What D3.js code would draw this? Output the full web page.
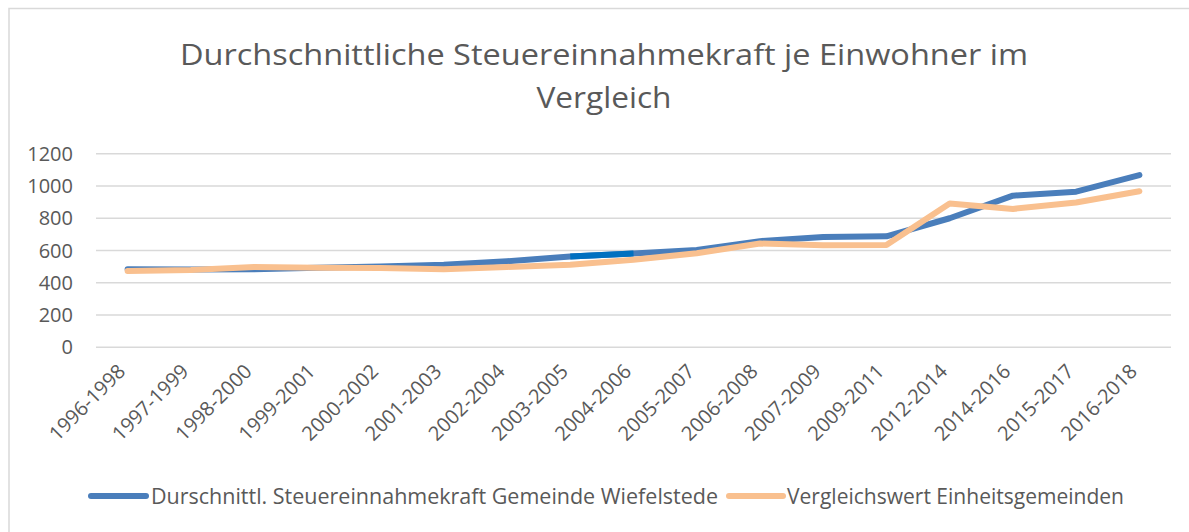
<!DOCTYPE html>
<html lang="de">
<head>
<meta charset="UTF-8">
<title>Steuereinnahmekraft</title>
<script src="https://cdn.jsdelivr.net/npm/d3@7/dist/d3.min.js"></script>
<style>
  body { margin: 0; background: #fff; }
  text { font-family: "Open Sans", sans-serif; fill: #595959; }
</style>
</head>
<body>
<div class="chart"></div>
<script>
    // Zeitraeume (x-Achse)
    let categories = ['1996-1998','1997-1999','1998-2000','1999-2001','2000-2002','2001-2003','2002-2004','2003-2005',
        '2004-2006','2005-2007','2006-2008','2007-2009','2009-2011','2012-2014','2014-2016','2015-2017','2016-2018']
    // Durchschnittl. Steuereinnahmekraft Gemeinde Wiefelstede
    let wiefelstede = [480,479,481,490,498,508,530,560,578,600,655,680,685,797,937,962,1065]
    // Vergleichswert Einheitsgemeinden
    let vergleich = [470,476,495,490,488,481,495,508,540,580,640,630,631,889,855,895,965]
    let yTicks = [0,200,400,600,800,1000,1200]
    let seriesNames = ['Durschnittl. Steuereinnahmekraft Gemeinde Wiefelstede','Vergleichswert Einheitsgemeinden']
    let titleLines = ['Durchschnittliche Steuereinnahmekraft je Einwohner im','Vergleich']

    let W = 1189, H = 532
    let plotLeft = 96, plotRight = 1171, plotTop = 153.3, plotBottom = 346.7
    let blue = '#4a7ebb', orange = '#f9c08f'

    let svg = d3.select('.chart').append('svg').attr('width', W).attr('height', H)
    svg.append('rect').attr('width', W).attr('height', H).attr('fill', '#fff')
    svg.append('rect').attr('x', 9).attr('y', 8.5).attr('width', 1300).attr('height', 600)
        .attr('fill', 'none').attr('stroke', '#d9d9d9').attr('stroke-width', 1.5)

    // Titel
    svg.selectAll('.title').data(titleLines).enter().append('text').attr('class', 'title')
        .attr('x', 604).attr('y', (d, i) => 65 + i * 43)
        .attr('text-anchor', 'middle').attr('font-size', 30)
        .attr('textLength', (d, i) => i == 0 ? 848 : 135)
        .attr('lengthAdjust', 'spacingAndGlyphs')
        .text(d => d)

    let x = d3.scaleBand().domain(categories).range([plotLeft, plotRight])
    let y = d3.scaleLinear().domain([0, 1200]).range([plotBottom, plotTop])
    let cx = d => x(d) + x.bandwidth() / 2

    // Gitterlinien + y-Achse
    let yAxis = d3.axisLeft(y).tickValues(yTicks).tickFormat(d3.format('d'))
        .tickSize(-(plotRight - plotLeft)).tickPadding(23)
    let gy = svg.append('g').attr('transform', 'translate(' + plotLeft + ',0)').call(yAxis)
    gy.select('.domain').remove()
    gy.selectAll('line').attr('stroke', '#d9d9d9').attr('stroke-width', 1.5)
    gy.selectAll('text').attr('font-size', 20).attr('fill', '#595959').attr('dy', '0.35em')
        .style('font-family', '"Open Sans", sans-serif')

    // x-Achse
    let xAxis = d3.axisBottom(x).tickSize(0).tickPadding(0)
    let gx = svg.append('g').attr('transform', 'translate(0,' + plotBottom + ')').call(xAxis)
    gx.select('.domain').remove()
    gx.selectAll('text')
        .attr('font-size', 20).attr('fill', '#595959')
        .style('font-family', '"Open Sans", sans-serif')
        .attr('text-anchor', 'end').attr('dy', 0).attr('y', 0)
        .attr('transform', 'translate(-1,26) rotate(-45)')

    // Linien
    let line = d3.line().x((d, i) => cx(categories[i])).y(d => y(d))
    svg.append('path').datum(wiefelstede).attr('d', line).attr('fill', 'none')
        .attr('stroke', blue).attr('stroke-width', 6).attr('stroke-linecap', 'round').attr('stroke-linejoin', 'round')
    // dunkler markierter Abschnitt 2003-2005 bis 2004-2006
    let seg = d3.line().x(d => cx(categories[d])).y(d => y(wiefelstede[d]))
    svg.append('path').datum([7, 8]).attr('d', seg).attr('fill', 'none')
        .attr('stroke', '#0070c0').attr('stroke-width', 6).attr('stroke-linecap', 'butt')
    svg.append('path').datum(vergleich).attr('d', line).attr('fill', 'none')
        .attr('stroke', orange).attr('stroke-width', 6).attr('stroke-linecap', 'round').attr('stroke-linejoin', 'round')

    // Legende
    let legend = [
        {name: seriesNames[0], color: blue, x0: 91, x1: 146, tx: 151, tw: 567},
        {name: seriesNames[1], color: orange, x0: 729, x1: 783, tx: 787, tw: 337}
    ]
    let lg = svg.append('g')
    lg.selectAll('line').data(legend).enter().append('line')
        .attr('x1', d => d.x0).attr('x2', d => d.x1).attr('y1', 496).attr('y2', 496)
        .attr('stroke', d => d.color).attr('stroke-width', 6).attr('stroke-linecap', 'round')
    lg.selectAll('text').data(legend).enter().append('text')
        .attr('x', d => d.tx).attr('y', 503.5).attr('font-size', 21)
        .attr('textLength', d => d.tw).attr('lengthAdjust', 'spacingAndGlyphs')
        .text(d => d.name)
</script>
</body>
</html>
